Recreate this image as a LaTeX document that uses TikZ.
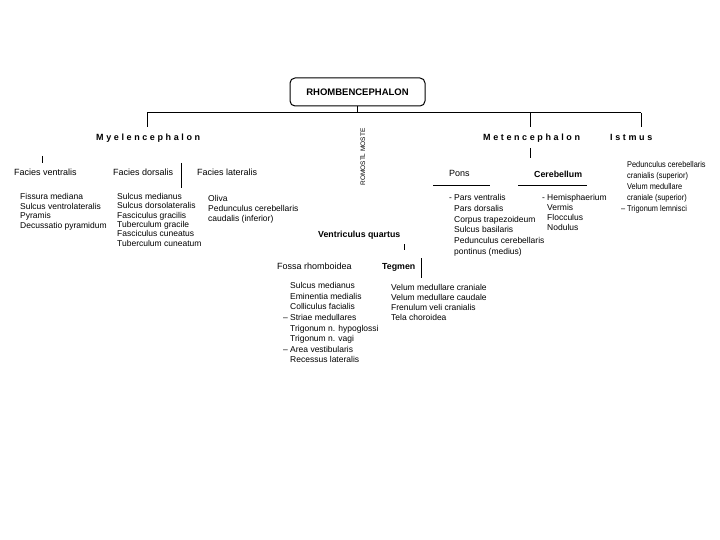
\documentclass[tikz,border=0pt]{standalone}
\usepackage{fontspec}
\setmainfont{Liberation Sans}
\newfontfamily\spacedfont[LetterSpace=29]{Liberation Sans}
\tikzset{
  txt/.style={inner sep=0pt, anchor=base west, font=\fontsize{9}{10}\selectfont},
  hdrb/.style={inner sep=0pt, anchor=base west, font=\bfseries\fontsize{8.8}{10}\selectfont},
  big/.style={inner sep=0pt, anchor=base west, font=\spacedfont\bfseries\fontsize{9}{11}\selectfont},
  lst/.style={inner sep=0pt, anchor=north west, align=left},
  ln/.style={draw=black, line width=0.8pt},
}
\begin{document}
\begin{tikzpicture}[x=1pt,y=-1pt]
\useasboundingbox[fill=white] (0,0) rectangle (720,540);

% root
\node[draw, line width=1pt, rounded corners=5pt, minimum width=135pt, minimum height=28pt,
      inner sep=0pt, font=\bfseries\fontsize{9.5}{11}\selectfont] (root) at (357.5,92) {RHOMBENCEPHALON};

\coordinate (jr) at (357.5,113);
\coordinate (jl) at (147,113);
\coordinate (jm) at (530,113);
\coordinate (ji) at (641,113);
\coordinate (el) at (147,127);
\coordinate (em) at (530,127);
\coordinate (ei) at (641,127);
\draw[ln] (root.south) -- (jr);
\draw[ln, line width=1pt] (jl) -- (ji);
\draw[ln] (jl) -- (el);
\draw[ln] (jm) -- (em);
\draw[ln] (ji) -- (ei);

% level 1
\node[big] (myel) at (96,141) {Myelencephalon};
\node[big] (met) at (483,141) {Metencephalon};
\node[big] (ist) at (610,141) {Istmus};

\node[inner sep=0pt, rotate=90, font=\fontsize{6.5}{7}\selectfont] (vert) at (363,157) {ROMOSTL MOSTE};

% Myelencephalon branch
\coordinate (tv1) at (42,156);
\coordinate (tv2) at (42,163);
\draw[ln] (tv1) -- (tv2);
\coordinate (td1) at (181,163);
\coordinate (td2) at (181,188);
\draw[ln] (td1) -- (td2);

\node[txt] (fv) at (14,176) {Facies ventralis};
\node[txt] (fd) at (113,176) {Facies dorsalis};
\node[txt] (fl) at (197,176) {Facies lateralis};

\node[lst, font=\fontsize{8.5}{9.6}\selectfont] (lv) at (20,193.3) {Fissura mediana\\Sulcus ventrolateralis\\Pyramis\\Decussatio pyramidum};
\node[lst, font=\fontsize{8.5}{9.3}\selectfont] (ld) at (117,193.3) {Sulcus medianus\\Sulcus dorsolateralis\\Fasciculus gracilis\\Tuberculum gracile\\Fasciculus cuneatus\\Tuberculum cuneatum};
\node[lst, font=\fontsize{8.5}{10}\selectfont] (ll) at (208,195.3) {Oliva\\Pedunculus cerebellaris\\caudalis (inferior)};

% Metencephalon branch
\coordinate (mt1) at (530,148);
\coordinate (mt2) at (530,158);
\draw[ln] (mt1) -- (mt2);

\node[txt] (pons) at (449,177) {Pons};
\node[hdrb] (cer) at (534,178) {Cerebellum};
\coordinate (pu1) at (433,185);
\coordinate (pu2) at (490,185);
\coordinate (cu1) at (518,185);
\coordinate (cu2) at (587,185);
\draw[ln] (pu1) -- (pu2);
\draw[ln] (cu1) -- (cu2);

\node[lst, font=\fontsize{8.5}{10.7}\selectfont] (lp) at (454,194.3) {\llap{- }Pars ventralis\\Pars dorsalis\\Corpus trapezoideum\\Sulcus basilaris\\Pedunculus cerebellaris\\pontinus (medius)};
\node[lst, font=\fontsize{8.5}{10}\selectfont] (lc) at (547,194.3) {\llap{- }Hemisphaerium\\Vermis\\Flocculus\\Nodulus};

% Istmus
\node[inner sep=0pt, anchor=north west, font=\fontsize{8.4}{11}\selectfont] (li) at (627,159.8)
  {\scalebox{0.88}[1]{\begin{tabular}{@{}l@{}}Pedunculus cerebellaris\\cranialis (superior)\\Velum medullare\\craniale (superior)\\\llap{-- }Trigonum lemnisci\end{tabular}}};

% Ventriculus quartus
\node[hdrb] (vq) at (318,237) {Ventriculus quartus};
\coordinate (vt1) at (404,244);
\coordinate (vt2) at (404,250);
\draw[ln] (vt1) -- (vt2);
\node[txt] (fr) at (277,269) {Fossa rhomboidea};
\node[hdrb] (teg) at (382,269) {Tegmen};
\coordinate (tg1) at (421,258);
\coordinate (tg2) at (421,278);
\draw[ln] (tg1) -- (tg2);

\node[lst, font=\fontsize{8.5}{10.6}\selectfont] (lf) at (290,282.3) {Sulcus medianus\\Eminentia medialis\\Colliculus facialis\\\llap{-- }Striae medullares\\Trigonum n. hypoglossi\\Trigonum n. vagi\\\llap{-- }Area vestibularis\\Recessus lateralis};
\node[lst, font=\fontsize{8.5}{10}\selectfont] (lt) at (391,284.3) {Velum medullare craniale\\Velum medullare caudale\\Frenulum veli cranialis\\Tela choroidea};
\end{tikzpicture}
\end{document}
